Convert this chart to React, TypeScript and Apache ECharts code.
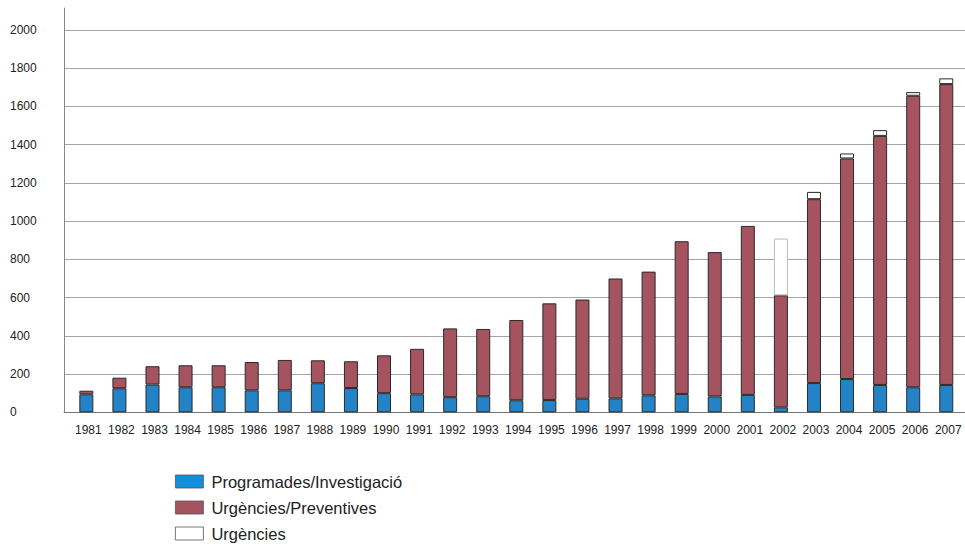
import React, { useEffect, useRef } from "react";
import * as echarts from "echarts";

const years = [
  "1981", "1982", "1983", "1984", "1985", "1986", "1987", "1988", "1989", "1990",
  "1991", "1992", "1993", "1994", "1995", "1996", "1997", "1998", "1999", "2000",
  "2001", "2002", "2003", "2004", "2005", "2006", "2007",
];
const programades = [94, 126, 145, 131, 131, 115, 115, 152, 127, 100, 94, 79, 84, 63, 64, 71, 73, 89, 96, 83, 91, 26, 153, 174, 143, 131, 143];
const preventives = [19, 55, 96, 115, 115, 148, 159, 120, 140, 198, 238, 360, 352, 420, 506, 519, 627, 647, 799, 755, 884, 586, 962, 1154, 1303, 1525, 1574];
const urgencies: (number | null)[] = [
  null, null, null, null, null, null, null, null, null, null,
  null, null, null, null, null, null, null, null, null, null,
  null, 297, 38, 26, 30, 19, 30,
];
const yTicks = { min: 0, max: 2000, interval: 200 };
const seriesNames = ["Programades/Investigació", "Urgències/Preventives", "Urgències"];

const FONT = "'Liberation Sans', Arial, Helvetica, sans-serif";

export default function App() {
  const ref = useRef<HTMLDivElement>(null);
  useEffect(() => {
    if (!ref.current) return;
    const chart = echarts.init(ref.current, undefined, { renderer: "svg" });
    const bottom = 136.7;
    const top = 30;
    const border = { borderColor: "#2a2a2a", borderWidth: 1 };
    chart.setOption({
      animation: false,
      backgroundColor: "#fff",
      textStyle: { fontFamily: FONT },
      grid: [
        { left: 64, right: 0, top, bottom },
        { left: 69.8, right: 2.2, top, bottom },
        { left: 64, right: 0, top: 8, bottom },
      ],
      legend: {
        orient: "vertical",
        left: 175,
        top: 473,
        padding: 0,
        itemWidth: 28,
        itemHeight: 13,
        itemGap: 9,
        icon: "rect",
        itemStyle: { borderColor: "#555", borderWidth: 0.8 },
        textStyle: { fontSize: 16.5, color: "#222", fontFamily: FONT, padding: [0, 0, 0, 3] },
        data: [
          { name: seriesNames[0], itemStyle: { color: "#118fda" } },
          { name: seriesNames[1] },
          { name: seriesNames[2] },
        ],
      },
      xAxis: [
        {
          gridIndex: 0,
          type: "category",
          data: years,
          axisLine: { show: true, lineStyle: { color: "#777", width: 1 } },
          axisTick: { show: false },
          axisLabel: { show: false },
          splitLine: { show: false },
        },
        {
          gridIndex: 1,
          type: "category",
          data: years,
          axisLine: { show: false },
          axisTick: { show: false },
          axisLabel: { margin: 12, fontSize: 12, color: "#222", fontFamily: FONT, padding: [0, 0, 0, 4], interval: 0 },
          splitLine: { show: false },
        },
        { gridIndex: 2, type: "category", data: years, show: false },
      ],
      yAxis: [
        {
          gridIndex: 0,
          type: "value",
          ...yTicks,
          axisLine: { show: false },
          axisTick: { show: false },
          splitLine: { show: true, lineStyle: { color: "#a5a5a5", width: 1 } },
          axisLabel: {
            align: "left",
            margin: 54,
            fontSize: 12,
            color: "#222",
            fontFamily: FONT,
            formatter: (v: number) => String(v),
          },
        },
        { gridIndex: 1, type: "value", ...yTicks, show: false },
        {
          gridIndex: 2,
          type: "value",
          min: 0,
          max: 2000,
          axisLine: { show: true, lineStyle: { color: "#888", width: 1 } },
          axisTick: { show: false },
          axisLabel: { show: false },
          splitLine: { show: false },
        },
      ],
      series: [
        {
          name: seriesNames[0],
          type: "bar",
          stack: "total",
          xAxisIndex: 1,
          yAxisIndex: 1,
          barWidth: 14,
          itemStyle: { color: "#2383c6", ...border },
          data: programades,
        },
        {
          name: seriesNames[1],
          type: "bar",
          stack: "total",
          xAxisIndex: 1,
          yAxisIndex: 1,
          barWidth: 14,
          itemStyle: { color: "#a4535f", ...border },
          data: preventives,
        },
        {
          name: seriesNames[2],
          type: "bar",
          stack: "total",
          xAxisIndex: 1,
          yAxisIndex: 1,
          barWidth: 14,
          itemStyle: { color: "#ffffff", ...border },
          data: urgencies.map((v, i) =>
            years[i] === "2002" && v != null
              ? { value: v, itemStyle: { borderColor: "#bbb" } }
              : v
          ),
        },
      ],
    });
    return () => chart.dispose();
  }, []);
  return (
    <div
      ref={ref}
      style={{ position: "fixed", left: 0, top: 0, width: 965, height: 549 }}
    />
  );
}
